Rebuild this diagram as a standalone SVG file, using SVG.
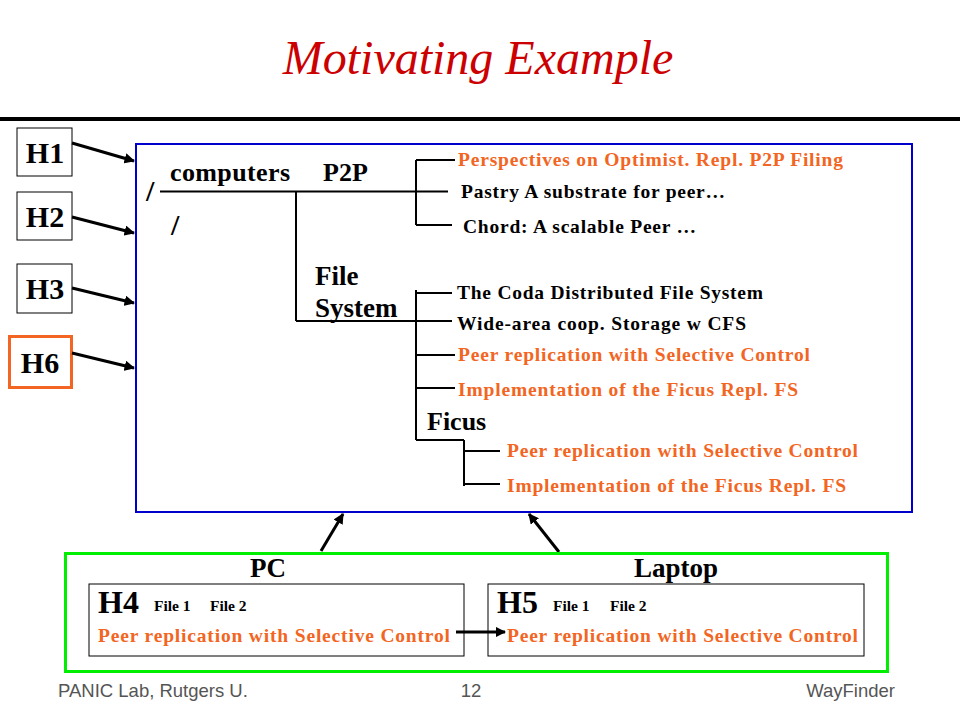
<svg xmlns="http://www.w3.org/2000/svg" width="960" height="720" viewBox="0 0 960 720">
<defs>
<style>
.t{font-family:"Liberation Serif","Times New Roman",serif;font-weight:bold;fill:#000}
.o{fill:#F26522}
.ln{stroke:#000;stroke-width:2;fill:none}
.ar{stroke:#000;stroke-width:3;fill:none;marker-end:url(#ah)}
.ft{font-family:"Liberation Sans",Arial,sans-serif;font-size:18.5px;fill:#555}
</style>
<marker id="ah" viewBox="0 0 10 10" refX="9" refY="5" markerWidth="3.5" markerHeight="3.5" orient="auto" markerUnits="strokeWidth">
<path d="M0,0 L10,5 L0,10 z" fill="#000"/>
</marker>
</defs>
<rect width="960" height="720" fill="#fff"/>
<text x="478" y="74" text-anchor="middle" font-family="'Liberation Serif','Times New Roman',serif" font-style="italic" font-size="48" fill="#CC0000">Motivating Example</text>
<rect x="0" y="117" width="960" height="4" fill="#000"/>

<g id="H1"><rect x="17" y="128" width="55" height="48" fill="#fff" stroke="#000" stroke-width="1"/><text class="t" x="45" y="163" text-anchor="middle" font-size="30">H1</text></g>
<g id="H2"><rect x="17" y="192" width="55" height="48" fill="#fff" stroke="#000" stroke-width="1"/><text class="t" x="45" y="227" text-anchor="middle" font-size="30">H2</text></g>
<g id="H3"><rect x="17" y="264" width="55" height="49" fill="#fff" stroke="#000" stroke-width="1"/><text class="t" x="45" y="299" text-anchor="middle" font-size="30">H3</text></g>
<g id="H6"><rect x="9.5" y="336.5" width="62" height="51" fill="#fff" stroke="#F26522" stroke-width="3"/><text class="t" x="40" y="373" text-anchor="middle" font-size="30">H6</text></g>

<g id="tree">
<rect x="136" y="144" width="776" height="368" fill="none" stroke="#0000CC" stroke-width="2"/>
<text class="t" x="146" y="201" font-size="30" font-weight="normal">/</text>
<text class="t" x="171" y="235" font-size="30" font-weight="normal">/</text>
<text class="t" x="170" y="181" font-size="26" textLength="120">computers</text>
<text class="t" x="323" y="181" font-size="26">P2P</text>
<text class="t" x="315" y="285" font-size="27">File</text>
<text class="t" x="315" y="317" font-size="27">System</text>
<text class="t" x="427" y="430" font-size="26">Ficus</text>
<text class="t o" x="458" y="166" font-size="19.5" textLength="385">Perspectives on Optimist. Repl. P2P Filing</text>
<text class="t" x="461" y="198" font-size="19.5" textLength="264">Pastry A substrate for peer…</text>
<text class="t" x="463" y="233" font-size="19.5" textLength="233">Chord: A scalable Peer …</text>
<text class="t" x="457" y="299" font-size="19.5" textLength="306">The Coda Distributed File System</text>
<text class="t" x="457" y="330" font-size="19.5" textLength="289">Wide-area coop. Storage w CFS</text>
<text class="t o" x="458" y="361" font-size="19.5" textLength="352">Peer replication with Selective Control</text>
<text class="t o" x="458" y="396" font-size="19.5" textLength="340">Implementation of the Ficus Repl. FS</text>
<text class="t o" x="507" y="457" font-size="19.5" textLength="351">Peer replication with Selective Control</text>
<text class="t o" x="507" y="492" font-size="19.5" textLength="339">Implementation of the Ficus Repl. FS</text>
</g>

<g id="connectors">
<path class="ln" d="M160,191.5 H448 M296,191.5 V321 M296,321 H452 M416,160 V225 M416,160 H455 M416,225 H452 M416,290 V440 M416,293 H452 M416,355 H455 M416,388 H455 M416,440 H464 M464,440 V486 M464,451 H500 M464,484 H500"/>
<line class="ar" x1="72" y1="143" x2="134" y2="161"/>
<line class="ar" x1="72" y1="217" x2="134" y2="233"/>
<line class="ar" x1="72" y1="288" x2="134" y2="303"/>
<line class="ar" x1="72" y1="353" x2="134" y2="368"/>
<line class="ar" x1="321" y1="551" x2="343" y2="514"/>
<line class="ar" x1="559" y1="552" x2="529" y2="514"/>
<line class="ar" x1="456" y1="632" x2="505" y2="632"/>
</g>

<g id="devices">
<rect x="65.5" y="553.5" width="822" height="118" fill="none" stroke="#00EE00" stroke-width="3"/>
<text class="t" x="268" y="577" text-anchor="middle" font-size="27">PC</text>
<text class="t" x="676" y="577" text-anchor="middle" font-size="27">Laptop</text>
</g>
<g id="H4">
<rect x="89" y="584" width="375" height="72" fill="none" stroke="#000" stroke-width="1"/>
<text class="t" x="98" y="613" font-size="32">H4</text>
<text class="t" x="154" y="611" font-size="15.5">File 1</text>
<text class="t" x="210" y="611" font-size="15.5">File 2</text>
<text class="t o" x="98" y="642" font-size="19.5" textLength="352">Peer replication with Selective Control</text>
</g>
<g id="H5">
<rect x="488" y="584" width="376" height="72" fill="none" stroke="#000" stroke-width="1"/>
<text class="t" x="497" y="613" font-size="32">H5</text>
<text class="t" x="553" y="611" font-size="15.5">File 1</text>
<text class="t" x="610" y="611" font-size="15.5">File 2</text>
<text class="t o" x="507" y="642" font-size="19.5" textLength="351">Peer replication with Selective Control</text>
</g>

<text class="ft" x="58" y="697">PANIC Lab, Rutgers U.</text>
<text class="ft" x="471" y="697" text-anchor="middle">12</text>
<text class="ft" x="895" y="697" text-anchor="end">WayFinder</text>
</svg>
